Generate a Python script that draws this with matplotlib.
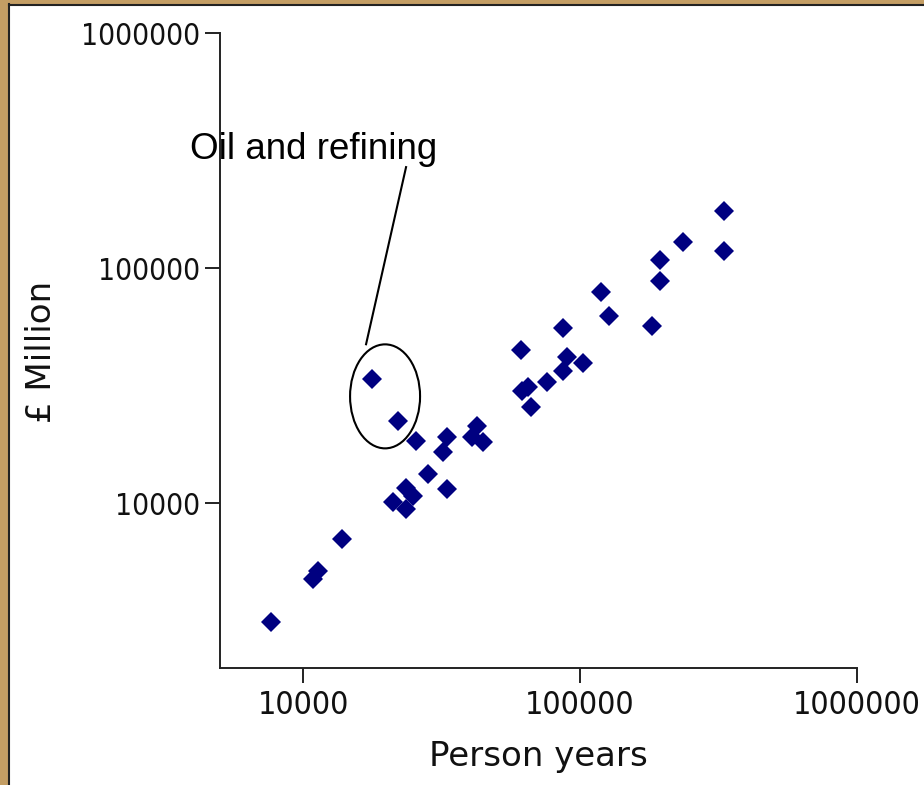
import matplotlib
matplotlib.use("Agg")
import matplotlib.pyplot as plt
from matplotlib.patches import Ellipse, Rectangle
from matplotlib.transforms import ScaledTranslation
from matplotlib import font_manager

# Data
person_years = [7665, 10866, 11330, 13826, 21130, 23540, 23540, 24950, 28280,
                33110, 25590, 33110, 32020, 42480, 40750, 44650, 17750, 22030,
                61240, 61750, 64910, 66550, 76040, 86830, 89770, 86830, 102500,
                119100, 127200, 181900, 194400, 194400, 235400, 331100, 331100]
gbp_million = [3116, 4750, 5135, 7027, 10100, 11580, 9430, 10710, 13290,
               11470, 18350, 19100, 16480, 21270, 19100, 18180, 33710, 22340,
               44770, 29970, 31160, 25620, 32720, 55550, 41810, 36450, 39410,
               79070, 62480, 56660, 108100, 88030, 129000, 174800, 118100]
tick_values = [10000, 100000, 1000000]
tick_labels = ["10000", "100000", "1000000"]
annotation_text = "Oil and refining"
ellipse_center = (19770, 28510)
line_start = (16880, 47490)
line_end = (23540, 269000)
text_pos = (3908, 290000)

fig = plt.figure(figsize=(9.24, 7.85), dpi=100)
fig.patch.set_facecolor("white")

# Frame decoration (tan border on the left and top)
tan = "#C49E64"
fig.patches.append(Rectangle((0, 0), 8 / 924, 1, transform=fig.transFigure,
                             facecolor=tan, edgecolor="none", zorder=-5))
fig.patches.append(Rectangle((0, 1 - 4 / 785), 1, 4 / 785, transform=fig.transFigure,
                             facecolor=tan, edgecolor="none", zorder=-5))
fig.lines.append(plt.Line2D([8.5 / 924, 8.5 / 924], [0, 1 - 4 / 785], transform=fig.transFigure,
                            color="#222222", lw=1.5))
fig.lines.append(plt.Line2D([8.5 / 924, 1], [1 - 4.5 / 785, 1 - 4.5 / 785], transform=fig.transFigure,
                            color="#222222", lw=1.5))

ax = fig.add_axes([220 / 924, 117 / 785, 637 / 924, 635 / 785])
ax.set_xscale("log")
ax.set_yscale("log")
ax.set_xlim(10 ** 3.70, 1e6)
ax.set_ylim(10 ** 3.30, 1e6)

ax.plot(person_years, gbp_million, linestyle="none", marker="D", markersize=10.5,
        color="#000080", markeredgewidth=0)

for s in ["top", "right"]:
    ax.spines[s].set_visible(False)
for s in ["left", "bottom"]:
    ax.spines[s].set_color("#222222")
    ax.spines[s].set_linewidth(1.4)

ycond = font_manager.FontProperties(family="DejaVu Sans", stretch="condensed", size=21.5)
xcond = font_manager.FontProperties(family="DejaVu Sans", stretch="condensed", size=23)

ax.set_xticks(tick_values)
ax.set_xticklabels(tick_labels, fontproperties=xcond)
ax.set_yticks(tick_values)
ax.set_yticklabels(tick_labels, fontproperties=ycond)
ax.minorticks_off()
ax.tick_params(axis="both", which="major", length=11, width=1.4, color="#222222",
               labelcolor="#111111", direction="out")
ax.tick_params(axis="y", pad=3)
ax.tick_params(axis="x", pad=5)

ax.set_xlabel("Person years", fontsize=24.5, color="#111111")
ax.xaxis.set_label_coords(0.5, (668 - 740) / 635)
ax.set_ylabel("£ Million", fontsize=24.5, color="#111111")
ax.yaxis.set_label_coords((58 - 220) / 637, 0.497)

# Annotation
ax.text(text_pos[0], text_pos[1], annotation_text, fontsize=26.5,
        family="Liberation Sans", ha="left", va="baseline", clip_on=False, zorder=5)
ax.plot([line_start[0], line_end[0]], [line_start[1], line_end[1]], color="black",
        lw=1.5, clip_on=False)
ell = Ellipse((0, 0), 0.70, 1.04, facecolor="none", edgecolor="black", lw=1.5,
              transform=fig.dpi_scale_trans + ScaledTranslation(ellipse_center[0], ellipse_center[1], ax.transData))
ax.add_patch(ell)

fig.savefig("out.png", dpi=100, facecolor="white")
